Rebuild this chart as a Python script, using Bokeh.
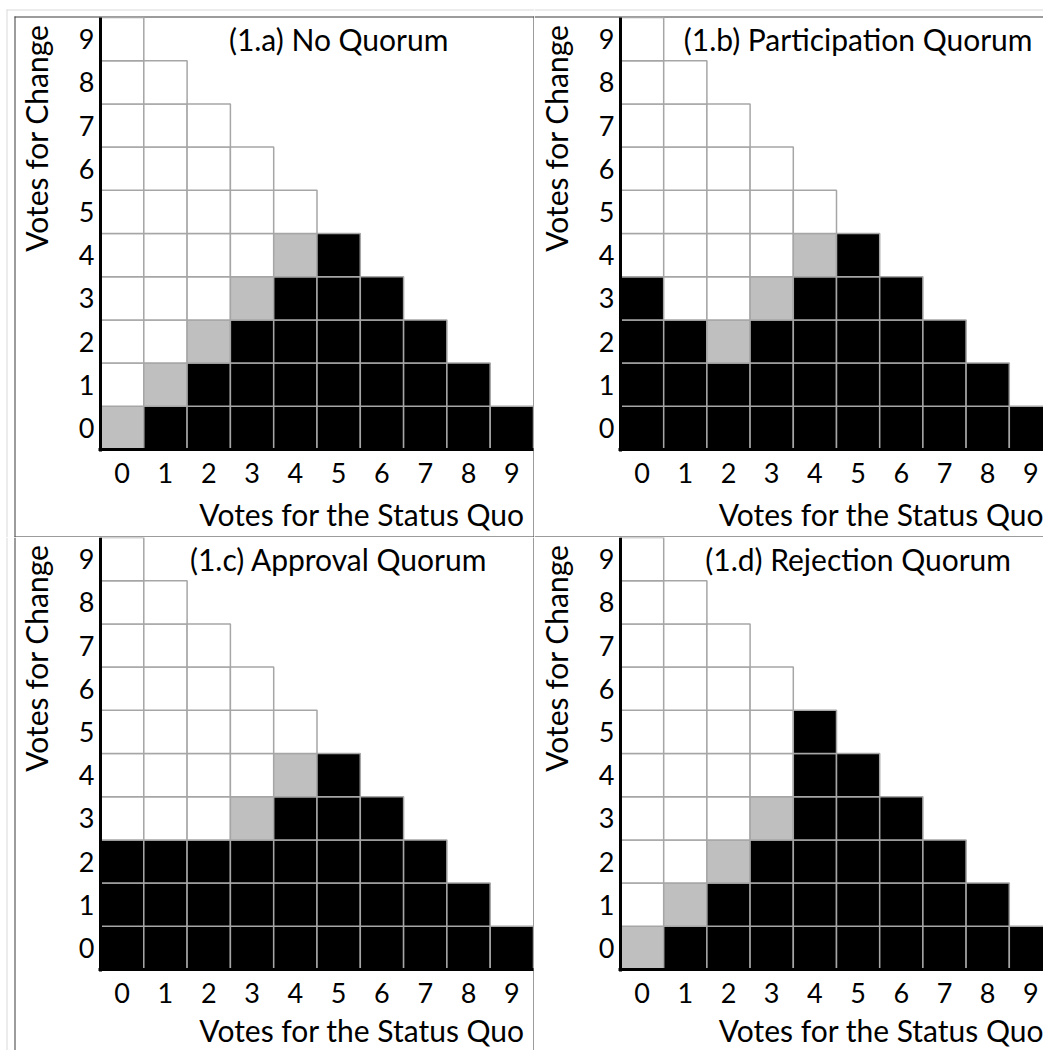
import math
from bokeh.plotting import figure
from bokeh.models import FixedTicker, ColumnDataSource, Label
from bokeh.layouts import row, column
from bokeh.embed import file_html
from bokeh.resources import INLINE

FONT = "Lato"
FONT_SIZE = "30px"
TICK_FONT_SIZE = "27px"
TEXT_COLOR = "#000000"

# ---- data -------------------------------------------------------------
STATUS_QUO_TICKS = [0, 1, 2, 3, 4, 5, 6, 7, 8, 9]
CHANGE_TICKS = [0, 1, 2, 3, 4, 5, 6, 7, 8, 9]
X_TITLE = "Votes for the Status Quo"
Y_TITLE = "Votes for Change"

PANEL_TITLES = [
    "(1.a) No Quorum",
    "(1.b) Participation Quorum",
    "(1.c) Approval Quorum",
    "(1.d) Rejection Quorum",
]

# One string per number of votes for change (row 0 = bottom).
# Character k of a string = k votes for the status quo.
# S: status quo wins (black), T: tie (grey), C: change wins (white)
NO_QUORUM = ["TSSSSSSSSS", "CTSSSSSSS", "CCTSSSSS", "CCCTSSS", "CCCCTS",
             "CCCCC", "CCCC", "CCC", "CC", "C"]
PARTICIPATION_QUORUM = ["SSSSSSSSSS", "SSSSSSSSS", "SSTSSSSS", "SCCTSSS", "CCCCTS",
                        "CCCCC", "CCCC", "CCC", "CC", "C"]
APPROVAL_QUORUM = ["SSSSSSSSSS", "SSSSSSSSS", "SSSSSSSS", "CCCTSSS", "CCCCTS",
                   "CCCCC", "CCCC", "CCC", "CC", "C"]
REJECTION_QUORUM = ["TSSSSSSSSS", "CTSSSSSSS", "CCTSSSSS", "CCCTSSS", "CCCCSS",
                    "CCCCS", "CCCC", "CCC", "CC", "C"]

OUTCOME_COLORS = {"S": "#000000", "T": "#bfbfbf", "C": "#ffffff"}
CELL_LINE = "#a6a6a6"
DARK = "#3a3a3a"
LIGHT = "#d9d9d9"
WHITE = "#ffffff"


def make_panel(title, rows, ox, oy, w, h, gx, gy, ux, uy, borders, xtitle_drop):
    """ox, oy: page position of the canvas; gx, gy: page position of the
    grid's top-left corner; ux, uy: pixel size of one cell."""
    def x_of(px):
        return -0.5 + (px - gx) / ux

    def y_of(py):
        return 9.5 - (py - gy) / uy

    x0, x1 = x_of(ox), x_of(ox + w)
    y0, y1 = y_of(oy + h), y_of(oy)

    xs, ys, cols = [], [], []
    for y, codes in enumerate(rows):
        for x, c in enumerate(codes):
            xs.append(STATUS_QUO_TICKS[x])
            ys.append(CHANGE_TICKS[y])
            cols.append(OUTCOME_COLORS[c])
    src = ColumnDataSource(dict(x=xs, y=ys, color=cols))

    p = figure(width=w, height=h, x_range=(x0, x1), y_range=(y0, y1),
               output_backend="svg", toolbar_location=None, tools="",
               min_border_left=0, min_border_right=0,
               min_border_top=0, min_border_bottom=0)
    p.outline_line_color = None
    p.background_fill_color = WHITE
    p.border_fill_color = WHITE
    p.xgrid.visible = False
    p.ygrid.visible = False

    # table / page rules around the panel
    if borders:
        p.quad(left=[x_of(b[1]) for b in borders], right=[x_of(b[2]) for b in borders],
               top=[y_of(b[3]) for b in borders], bottom=[y_of(b[4]) for b in borders],
               fill_color=[b[0] for b in borders], line_color=None)

    p.rect("x", "y", width=1, height=1, source=src, fill_color="color",
           line_color=CELL_LINE, line_width=1.5)

    # panel title
    p.add_layout(Label(x=5, y=9.0, text=title, text_align="center",
                       text_baseline="middle", text_font=FONT,
                       text_font_size=FONT_SIZE, text_color=TEXT_COLOR))

    # axis titles
    p.add_layout(Label(x=5.54, y=-0.5, y_offset=-xtitle_drop,
                       text=X_TITLE, text_align="center", text_baseline="middle",
                       text_font=FONT, text_font_size=FONT_SIZE,
                       text_color=TEXT_COLOR))
    p.add_layout(Label(x=-0.5, y=9.5, x_offset=-65, y_offset=-7, angle=math.pi / 2,
                       text=Y_TITLE, text_align="right", text_baseline="middle",
                       text_font=FONT, text_font_size=FONT_SIZE,
                       text_color=TEXT_COLOR))

    p.xaxis.ticker = FixedTicker(ticks=STATUS_QUO_TICKS)
    p.yaxis.ticker = FixedTicker(ticks=CHANGE_TICKS)
    p.xaxis.fixed_location = -0.5
    p.yaxis.fixed_location = -0.5
    p.xaxis.bounds = (-0.535, min(9.5, x1))
    p.yaxis.bounds = (-0.535, 9.5)
    for ax in (p.xaxis[0], p.yaxis[0]):
        ax.axis_line_width = 3
        ax.axis_line_color = "#000000"
        ax.major_tick_line_color = None
        ax.minor_tick_line_color = None
        ax.major_tick_out = 0
        ax.major_tick_in = 0
        ax.minor_tick_out = 0
        ax.minor_tick_in = 0
        ax.major_label_text_font = FONT
        ax.major_label_text_font_size = TICK_FONT_SIZE
        ax.major_label_text_color = TEXT_COLOR
    p.xaxis.major_label_standoff = 13
    p.yaxis.major_label_standoff = 6
    return p


# borders: (colour, x_from, x_to, y_from, y_to) in page pixels
BORDERS_A = [(LIGHT, 6, 534, 9, 10), (LIGHT, 6, 7, 9, 537),
             (DARK, 14, 534, 16, 17), (DARK, 14, 15, 16, 537),
             (DARK, 533, 534, 16, 537), (DARK, 14, 534, 536, 537)]
BORDERS_B = [(LIGHT, 534, 1043, 9, 10), (DARK, 534, 1043, 16, 17),
             (DARK, 534, 1043, 536, 537)]
BORDERS_C = [(LIGHT, 6, 7, 537, 1050), (DARK, 14, 15, 537, 1050),
             (DARK, 533, 534, 537, 1050)]
BORDERS_D = []

pa = make_panel(PANEL_TITLES[0], NO_QUORUM, 0, 0, 534, 537, 100, 17, 43.3, 43.2,
                BORDERS_A, 64)
pb = make_panel(PANEL_TITLES[1], PARTICIPATION_QUORUM, 534, 0, 509, 537, 620, 17, 43.2, 43.2,
                BORDERS_B, 64)
pc = make_panel(PANEL_TITLES[2], APPROVAL_QUORUM, 0, 537, 534, 513, 100, 537, 43.3, 43.2,
                BORDERS_C, 60)
pd = make_panel(PANEL_TITLES[3], REJECTION_QUORUM, 534, 537, 509, 513, 620, 537, 43.2, 43.2,
                BORDERS_D, 60)

layout = column(row(pa, pb), row(pc, pd))

open("out.html", "w").write(file_html(layout, INLINE, title="Quorum rules"))
